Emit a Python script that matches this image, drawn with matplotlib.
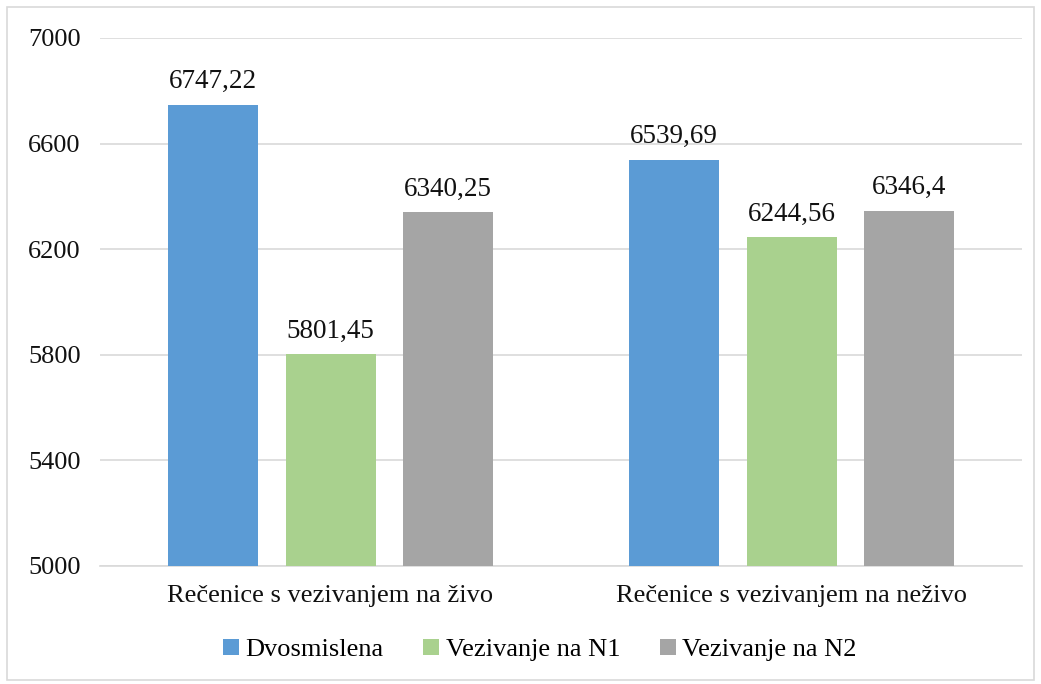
import numpy as np
import matplotlib
matplotlib.use('Agg')
import matplotlib.pyplot as plt
from matplotlib.patches import Rectangle

categories = ['Rečenice s vezivanjem na živo', 'Rečenice s vezivanjem na neživo']
series_names = ['Dvosmislena', 'Vezivanje na N1', 'Vezivanje na N2']
values = [
    [6747.22, 6539.69],
    [5801.45, 6244.56],
    [6340.25, 6346.4],
]
value_labels = [
    ['6747,22', '6539,69'],
    ['5801,45', '6244,56'],
    ['6340,25', '6346,4'],
]
colors = ['#5B9BD5', '#A9D18E', '#A5A5A5']
yticks = [5000, 5400, 5800, 6200, 6600, 7000]

plt.rcParams['font.family'] = ['Liberation Serif', 'DejaVu Serif']

fig = plt.figure(figsize=(10.41, 6.84), dpi=100)
ax = fig.add_axes([100 / 1041, 1 - 566 / 684, 922 / 1041, 528 / 684])

# outer chart border
fig.patches.append(Rectangle((7 / 1041, 4 / 684), 1027 / 1041, 673 / 684,
                             transform=fig.transFigure, fill=False,
                             edgecolor='#D9D9D9', linewidth=1.2))

x = np.arange(len(categories))
width = 90 / 461
step = 117.5 / 461
for i, (name, vals) in enumerate(zip(series_names, values)):
    pos = x + (i - 1) * step
    bars = ax.bar(pos, np.array(vals) - 5000, width, bottom=5000,
                  color=colors[i], label=name, zorder=3)
    for b, lab in zip(bars, value_labels[i]):
        ax.text(b.get_x() + b.get_width() / 2, b.get_y() + b.get_height() + 40,
                lab, ha='center', va='bottom', fontsize=19.5, color='#111111')

ax.set_xlim(-0.5, 1.5)
ax.set_ylim(5000, 7000)
ax.set_yticks(yticks)
ax.set_yticklabels([str(t) for t in yticks], fontsize=19, color='#111111')
ax.set_xticks(x)
ax.set_xticklabels(categories, fontsize=19, color='#111111')
ax.tick_params(axis='both', length=0)
ax.tick_params(axis='y', pad=14)
ax.tick_params(axis='x', pad=14)
ax.grid(axis='y', color='#D9D9D9', linewidth=1.2, zorder=0)
for s in ['top', 'right', 'left']:
    ax.spines[s].set_visible(False)
ax.spines['bottom'].set_color('#D9D9D9')
ax.spines['bottom'].set_linewidth(1.2)

fig.legend(loc='center', bbox_to_anchor=(540 / 1041, 1 - 650 / 684), ncol=3,
           frameon=False, fontsize=19, handlelength=0.6, handleheight=0.6,
           handletextpad=0.25, columnspacing=1.5)

fig.savefig('out.png', dpi=100)
